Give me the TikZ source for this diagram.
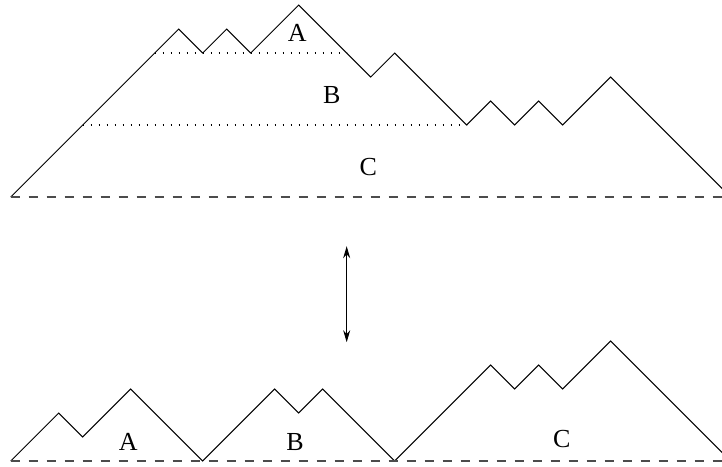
\documentclass[tikz,border=0pt]{standalone}
\usepackage{fontspec}
\setmainfont{Liberation Serif}
\usetikzlibrary{arrows.meta}
\begin{document}
\begin{tikzpicture}[x=12pt,y=12pt,
  pathline/.style={line width=0.5pt, line join=miter},
  baseline/.style={line width=0.6pt, dash pattern=on 4.5pt off 4.5pt, black!70},
  dotline/.style={line width=0.6pt, dash pattern=on 0.6pt off 3.4pt, black},
  lbl/.style={font=\fontsize{13}{15}\selectfont, inner sep=0pt},
  dbl/.style={line width=0.5pt, {Stealth[length=6pt,width=3.5pt]}-{Stealth[length=6pt,width=3.5pt]}}]
\useasboundingbox (-0.446,8.21) rectangle (29.64,-11.21);
% top path
\draw[pathline] (0,0) -- (7,7) -- (8,6) -- (9,7) -- (10,6) -- (12,8) -- (15,5) -- (16,6) -- (19,3) -- (20,4) -- (21,3) -- (22,4) -- (23,3) -- (25,5) -- (30,0);
\draw[baseline] (0,0) -- (29.7,0);
\draw[dotline] (6,6) -- (14,6);
\draw[dotline] (3,3) -- (19,3);
\node[lbl] (tA) at (11.94,6.82) {A};
\node[lbl] (tB) at (13.375,4.24) {B};
\node[lbl] (tC) at (14.9,1.26) {C};
% arrow
\coordinate (up) at (14,-2.05);
\coordinate (dn) at (14,-6.05);
\draw[dbl] (up) -- (dn);
% bottom paths
\draw[pathline] (0,-11) -- (2,-9) -- (3,-10) -- (5,-8) -- (8,-11) -- (11,-8) -- (12,-9) -- (13,-8) -- (16,-11) -- (20,-7) -- (21,-8) -- (22,-7) -- (23,-8) -- (25,-6) -- (30,-11);
\draw[baseline] (0,-11) -- (29.7,-11);
\node[lbl] (bA) at (4.9,-10.2) {A};
\node[lbl] (bB) at (11.85,-10.2) {B};
\node[lbl] (bC) at (22.96,-10.1) {C};
\end{tikzpicture}
\end{document}
